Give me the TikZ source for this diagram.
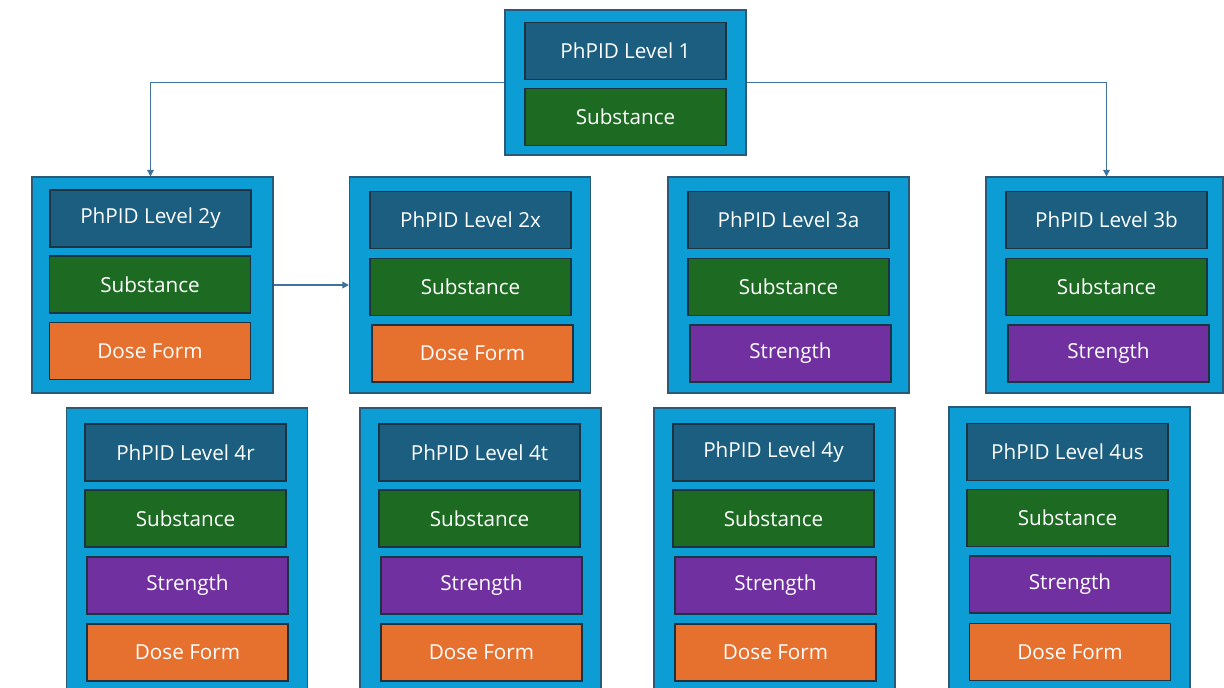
\documentclass[tikz,border=0pt]{standalone}
\usepackage{fontspec}
\setmainfont{Open Sans}
\usetikzlibrary{arrows.meta}
\definecolor{outerfill}{HTML}{0B9DD4}
\definecolor{outerline}{HTML}{2A5A78}
\definecolor{hdrfill}{HTML}{1B5E80}
\definecolor{subfill}{HTML}{1D6B22}
\definecolor{strfill}{HTML}{7030A0}
\definecolor{dosefill}{HTML}{E6702E}
\definecolor{cellline}{HTML}{1C3344}
\definecolor{connc}{HTML}{3F729C}
\tikzset{
  outerbox/.style={draw=outerline, line width=0.8pt, fill=outerfill, minimum width=180.75pt, minimum height=162pt, inner sep=0pt},
  cell/.style={draw=cellline, line width=1pt, minimum width=150.75pt, minimum height=42.75pt, inner sep=0pt, text=white, font=\fontsize{15.5}{17}\selectfont},
  hdr/.style={cell, fill=hdrfill},
  subs/.style={cell, fill=subfill},
  strg/.style={cell, fill=strfill},
  dosef/.style={cell, fill=dosefill},
  conn/.style={draw=connc, line width=1.1pt, -{Triangle[length=5pt,width=5pt]}}
}
\begin{document}
\begin{tikzpicture}[x=0.75pt,y=-0.75pt]
\clip (0,0) rectangle (1224,687);
\fill[white] (0,0) rectangle (1224,687);
% Level 1
\node[outerbox, minimum height=108.75pt] (L1) at (625.5,82.5) {};
\node[hdr] (L1h) at (625.5,51) {PhPID Level 1};
\node[subs] (L1s) at (625.5,117) {Substance};
% Level 2y
\node[outerbox] (L2y) at (152.5,285) {};
\node[hdr] (L2yh) at (150.5,218.5) {PhPID Level 2y};
\node[subs] (L2ys) at (150,284.5) {Substance};
\node[dosef] (L2yd) at (150,351) {Dose Form};
% Level 2x
\node[outerbox] (L2x) at (470,285) {};
\node[hdr] (L2xh) at (470.5,220) {PhPID Level 2x};
\node[subs] (L2xs) at (470.5,287) {Substance};
\node[dosef] (L2xd) at (472.5,353.5) {Dose Form};
% Level 3a
\node[outerbox] (L3a) at (788.5,285) {};
\node[hdr] (L3ah) at (788.5,220) {PhPID Level 3a};
\node[subs] (L3as) at (788.5,287) {Substance};
\node[strg] (L3ar) at (790.5,353.5) {Strength};
% Level 3b
\node[outerbox, minimum width=177.75pt] (L3b) at (1104.5,285) {};
\node[hdr] (L3bh) at (1106.5,220) {PhPID Level 3b};
\node[subs] (L3bs) at (1106.5,287) {Substance};
\node[strg] (L3br) at (1108.5,353.5) {Strength};
% Level 4r
\node[outerbox, minimum height=217.5pt] (L4r) at (187,553) {};
\node[hdr] (L4rh) at (185.5,452.5) {PhPID Level 4r};
\node[subs] (L4rs) at (185.5,518.5) {Substance};
\node[strg] (L4rr) at (187.5,585.5) {Strength};
\node[dosef] (L4rd) at (187.5,652.5) {Dose Form};
% Level 4t
\node[outerbox, minimum height=217.5pt] (L4t) at (480.5,553) {};
\node[hdr] (L4th) at (479.5,452.5) {PhPID Level 4t};
\node[subs] (L4ts) at (479.5,518.5) {Substance};
\node[strg] (L4tr) at (481.5,585.5) {Strength};
\node[dosef] (L4td) at (481.5,652.5) {Dose Form};
% Level 4y
\node[outerbox, minimum height=217.5pt] (L4y) at (774.5,553) {};
\node[hdr] (L4yh) at (773.5,452.5) {PhPID Level 4y};
\node[subs] (L4ys) at (773.5,518.5) {Substance};
\node[strg] (L4yr) at (775.5,585.5) {Strength};
\node[dosef] (L4yd) at (775.5,652.5) {Dose Form};
% Level 4us
\node[outerbox, minimum height=217.5pt] (L4us) at (1069.5,552) {};
\node[hdr] (L4ush) at (1067.5,452) {PhPID Level 4us};
\node[subs] (L4uss) at (1067.5,518) {Substance};
\node[strg] (L4usr) at (1070,584.5) {Strength};
\node[dosef] (L4usd) at (1070,652) {Dose Form};
% connectors
\draw[conn] (L1.west) -| (L2yh.north |- L2y.north);
\draw[conn] (L1.east) -| (L3bh.north |- L3b.north);
\draw[conn] (L2y.east) -- (L2x.west);
\end{tikzpicture}
\end{document}
